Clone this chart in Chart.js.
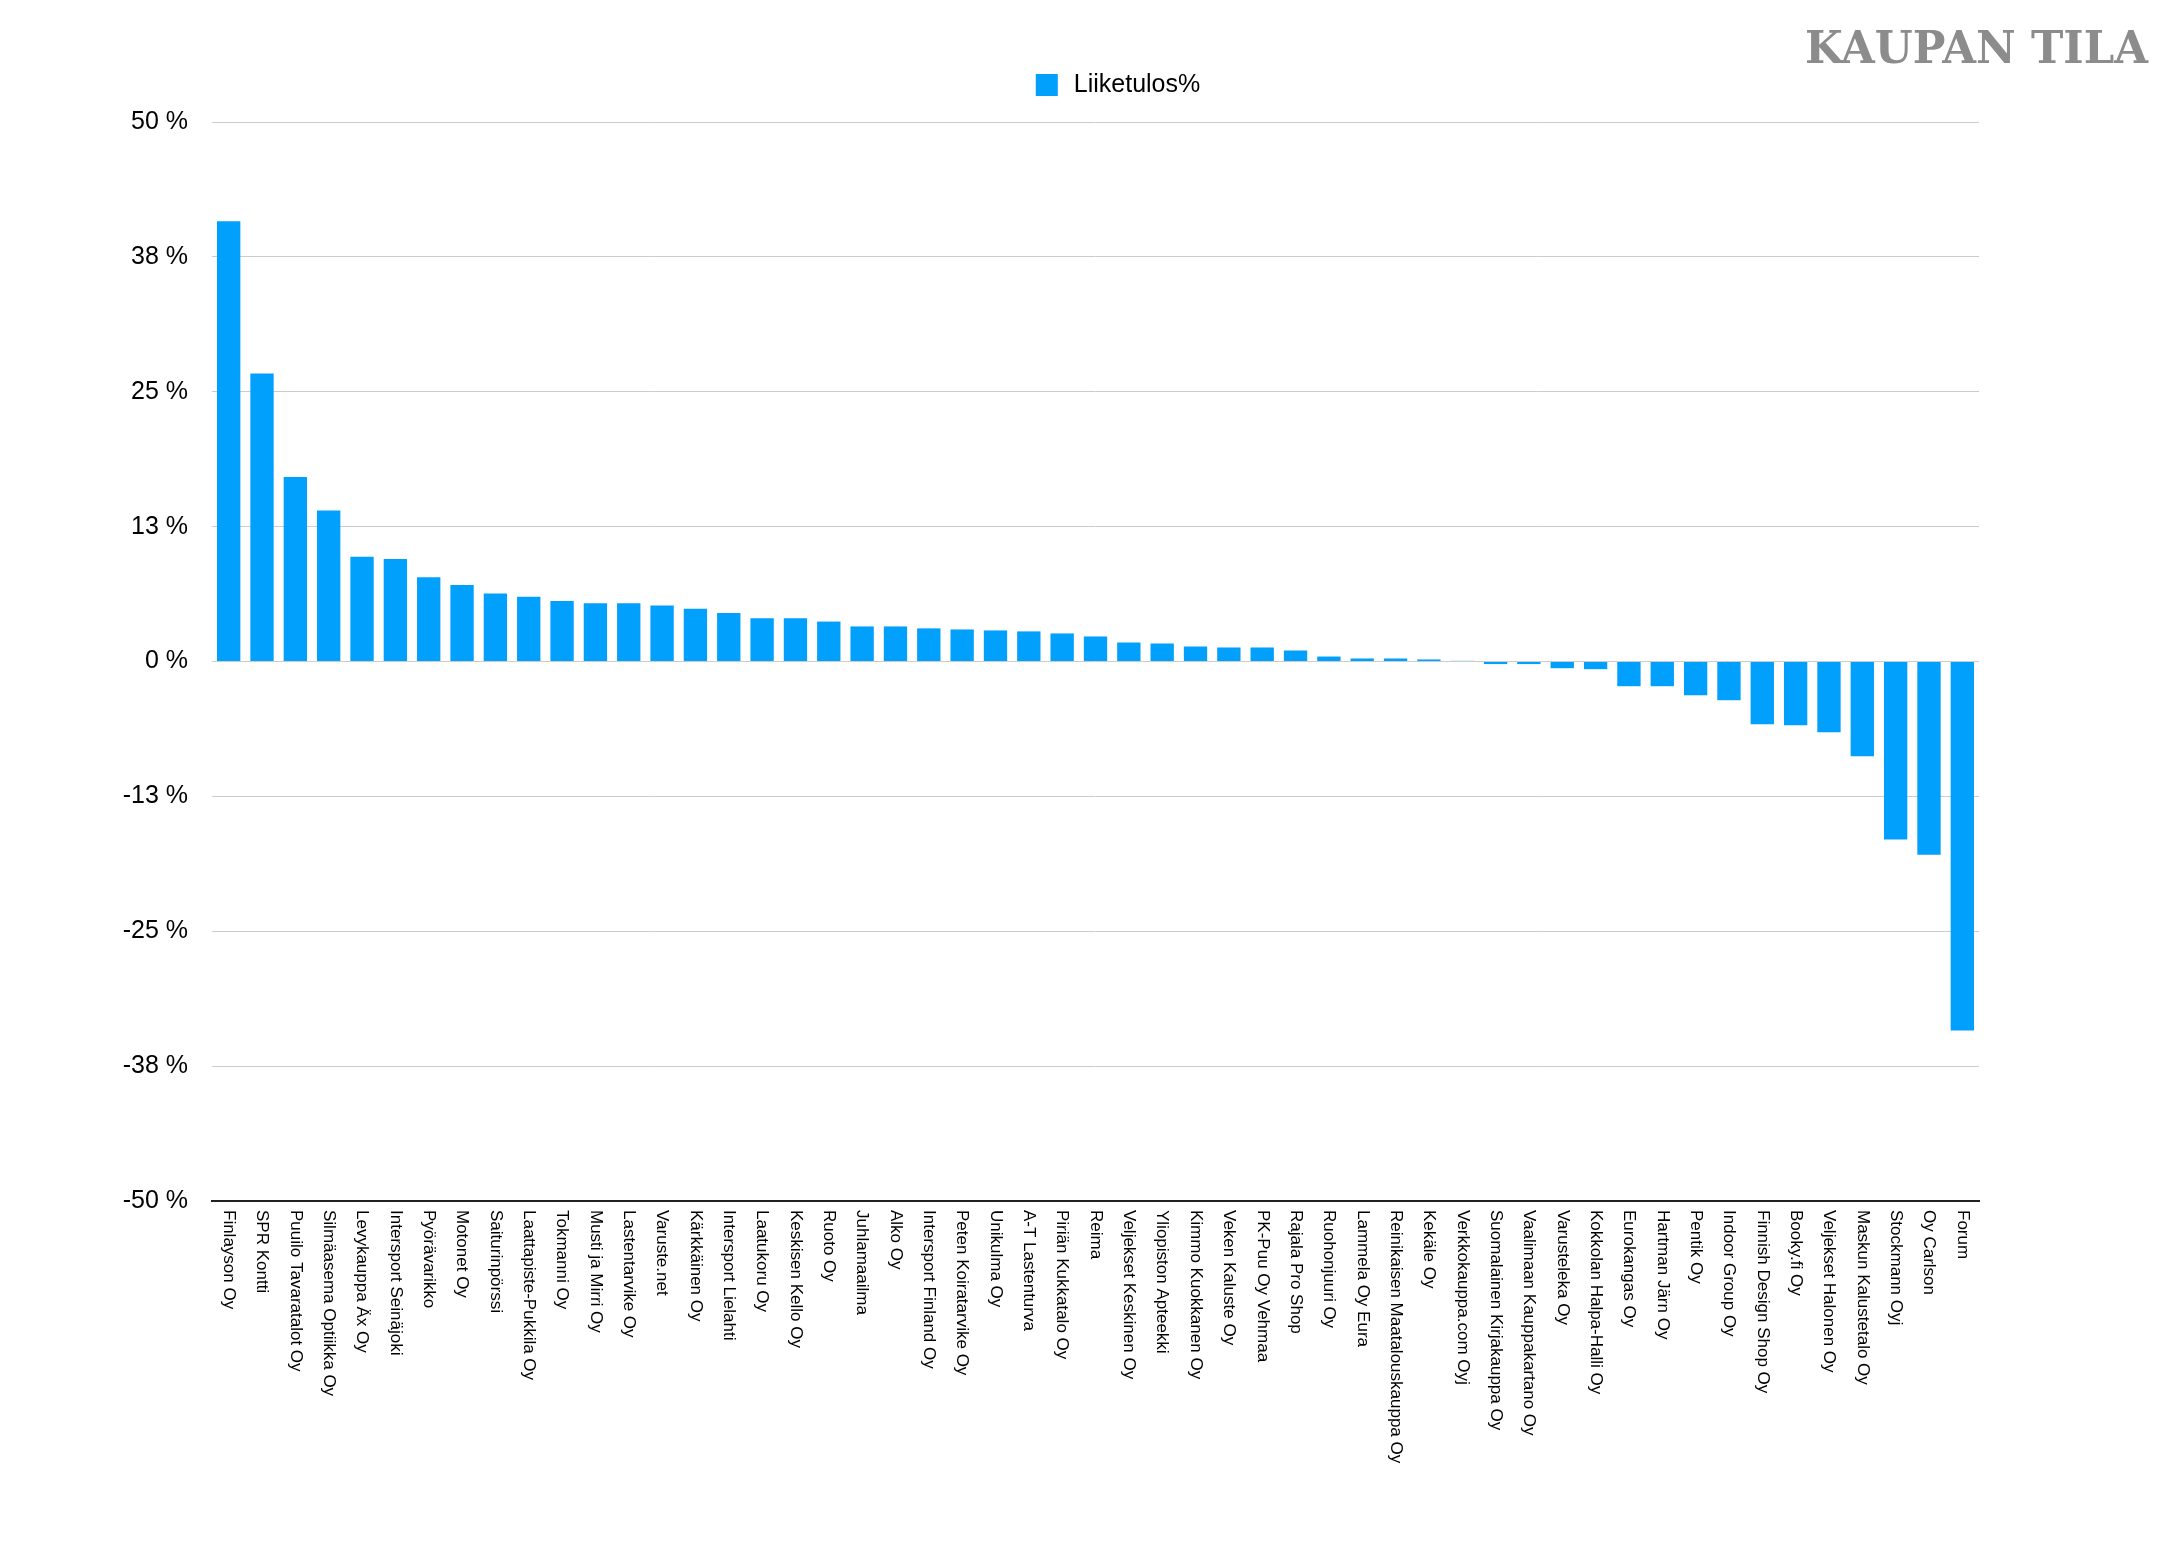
<!DOCTYPE html>
<html>
<head>
<meta charset="utf-8">
<script src="https://cdn.jsdelivr.net/npm/chart.js@4.4.1/dist/chart.umd.min.js"></script>
<style>
  html, body { margin: 0; padding: 0; background: #fff; }
  #wrap { width: 2164px; height: 1544px; }
</style>
</head>
<body>
<div id="wrap"><canvas id="chart" width="2164" height="1544"></canvas></div>
<script>
const seriesName = 'Liiketulos%';
const brandText = 'KAUPAN TILA';

const companies = [
  'Finlayson Oy', 'SPR Kontti', 'Puuilo Tavaratalot Oy', 'Silmäasema Optiikka Oy',
  'Levykauppa Äx Oy', 'Intersport Seinäjoki', 'Pyörävarikko', 'Motonet Oy',
  'Saiturinpörssi', 'Laattapiste-Pukkila Oy', 'Tokmanni Oy', 'Musti ja Mirri Oy',
  'Lastentarvike Oy', 'Varuste.net', 'Kärkkäinen Oy', 'Intersport Lielahti',
  'Laatukoru Oy', 'Keskisen Kello Oy', 'Ruoto Oy', 'Juhlamaailma',
  'Alko Oy', 'Intersport Finland Oy', 'Peten Koiratarvike Oy', 'Unikulma Oy',
  'A-T Lastenturva', 'Piriän Kukkatalo Oy', 'Reima', 'Veljekset Keskinen Oy',
  'Yliopiston Apteekki', 'Kimmo Kuokkanen Oy', 'Veken Kaluste Oy', 'PK-Puu Oy Vehmaa',
  'Rajala Pro Shop', 'Ruohonjuuri Oy', 'Lammela Oy Eura', 'Reinikaisen Maatalouskauppa Oy',
  'Kekäle Oy', 'Verkkokauppa.com Oyj', 'Suomalainen Kirjakauppa Oy', 'Vaalimaan Kauppakartano Oy',
  'Varusteleka Oy', 'Kokkolan Halpa-Halli Oy', 'Eurokangas Oy', 'Hartman Järn Oy',
  'Pentik Oy', 'Indoor Group Oy', 'Finnish Design Shop Oy', 'Booky.fi Oy',
  'Veljekset Halonen Oy', 'Maskun Kalustetalo Oy', 'Stockmann Oyj', 'Oy Carlson', 'Forum'
];

const liiketulos = [
  40.8, 26.7, 17.1, 14.0,
  9.7, 9.5, 7.8, 7.1,
  6.3, 6.0, 5.6, 5.4,
  5.4, 5.2, 4.9, 4.5,
  4.0, 4.0, 3.7, 3.25,
  3.25, 3.07, 2.97, 2.88,
  2.79, 2.6, 2.32, 1.76,
  1.67, 1.39, 1.3, 1.3,
  1.02, 0.46, 0.28, 0.28,
  0.19, 0.06, -0.24, -0.24,
  -0.62, -0.71, -2.29, -2.29,
  -3.13, -3.59, -5.82, -5.91,
  -6.56, -8.79, -16.5, -17.9, -34.2
];

const yTickValues = [-50, -37.5, -25, -12.5, 0, 12.5, 25, 37.5, 50];
const yTickLabels = ['-50 %', '-38 %', '-25 %', '-13 %', '0 %', '13 %', '25 %', '38 %', '50 %'];

const barColor = '#02a0fd';
const fontFamily = '"Liberation Sans", Arial, Helvetica, sans-serif';

Chart.defaults.font.family = fontFamily;
Chart.defaults.color = '#000';

// company names read top-to-bottom under each bar
const categoryLabels = {
  id: 'categoryLabels',
  afterDraw(chart){
    const ctx = chart.ctx;
    const xs = chart.scales.x;
    ctx.save();
    ctx.font = '17px ' + fontFamily;
    ctx.fillStyle = '#000';
    ctx.textAlign = 'left';
    ctx.textBaseline = 'middle';
    chart.data.labels.forEach((name, i) => {
      ctx.save();
      ctx.translate(xs.getPixelForValue(i), xs.top + 9);
      ctx.rotate(Math.PI / 2);
      ctx.fillText(name, 0, 0);
      ctx.restore();
    });
    ctx.restore();
  }
};

// legend + brand mark at the top
const topDecor = {
  id: 'topDecor',
  afterDraw(chart){
    const ctx = chart.ctx;
    const ds = chart.data.datasets[0];
    ctx.save();
    ctx.font = '25px ' + fontFamily;
    const tw = ctx.measureText(ds.label).width;
    const box = 22, gap = 16;
    const x0 = 1118 - (box + gap + tw) / 2;
    const cy = 85;
    ctx.fillStyle = ds.backgroundColor;
    ctx.fillRect(x0, cy - box / 2, box, box);
    ctx.fillStyle = '#000';
    ctx.textBaseline = 'middle';
    ctx.textAlign = 'left';
    ctx.fillText(ds.label, x0 + box + gap, cy);

    ctx.font = 'bold 44px "DejaVu Serif", "Liberation Serif", serif';
    const bw = ctx.measureText(brandText).width;
    const target = 343;
    ctx.translate(2148 - target, 63);
    ctx.scale(target / bw, 1);
    ctx.fillStyle = '#8c8c8c';
    ctx.textBaseline = 'alphabetic';
    ctx.fillText(brandText, 0, 0);
    ctx.restore();
  }
};

const ctx = document.getElementById('chart').getContext('2d');
new Chart(ctx, {
  type: 'bar',
  data: {
    labels: companies,
    datasets: [{
      label: seriesName,
      data: liiketulos,
      backgroundColor: barColor,
      borderWidth: 0,
      categoryPercentage: 1,
      barPercentage: 0.7
    }]
  },
  options: {
    responsive: false,
    devicePixelRatio: 1,
    animation: false,
    layout: { padding: { left: 0, right: 185, top: 122, bottom: 335 } },
    plugins: {
      legend: { display: false },
      tooltip: { enabled: false }
    },
    scales: {
      x: {
        grid: { display: false },
        border: { display: true, color: '#222', width: 2 },
        ticks: { display: false }
      },
      y: {
        min: -50,
        max: 50,
        afterBuildTicks(scale){
          scale.ticks = yTickValues.map(v => ({ value: v }));
        },
        afterFit(scale){
          scale.width = 212;
        },
        grid: {
          drawTicks: false,
          lineWidth: 1,
          color: c => (c.tick && c.tick.value === -50) ? 'rgba(0,0,0,0)' : '#cccccc'
        },
        border: { display: false },
        ticks: {
          padding: 24,
          color: '#000',
          font: { size: 25 },
          callback: (v) => yTickLabels[yTickValues.indexOf(v)]
        }
      }
    }
  },
  plugins: [categoryLabels, topDecor]
});
</script>
</body>
</html>
